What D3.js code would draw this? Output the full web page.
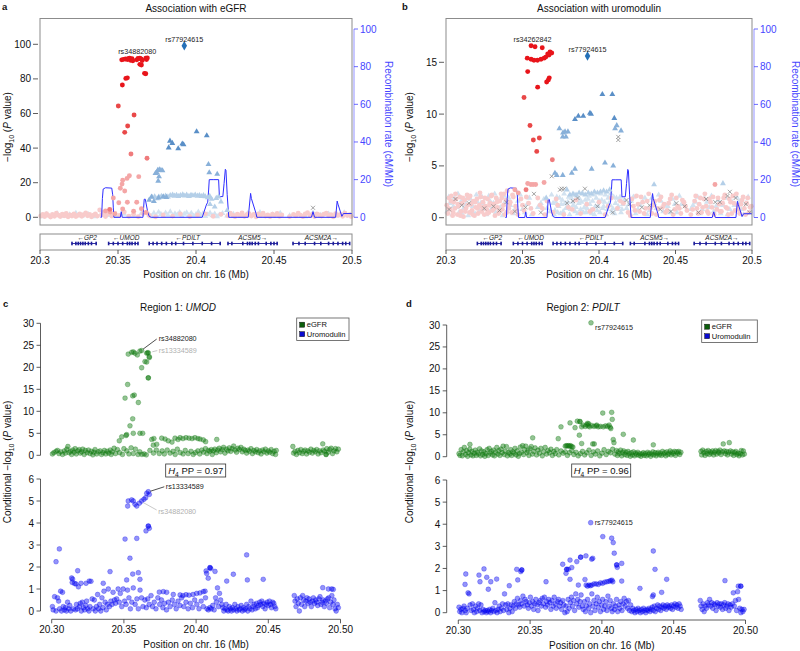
<!DOCTYPE html>
<html><head><meta charset="utf-8">
<script src="https://cdn.jsdelivr.net/npm/d3@7"></script>
<style>body{margin:0;background:#fff}svg{display:block}text{font-family:"Liberation Sans",Arial,Helvetica,sans-serif}</style>
</head><body><script>
// ---------------- DATA ----------------
const xDomain=[20.3,20.5];
const xTicksAB=[20.3,20.35,20.4,20.45,20.5];
const xTickLabelsAB=["20.3","20.35","20.4","20.45","20.5"];
const xTickLabelsCD=["20.30","20.35","20.40","20.45","20.50"];
const yTicksA=[0,20,40,60,80,100];
const yTicksB=[0,5,10,15];
const recTicks=[0,20,40,60,80,100];
const yTicksTop=[0,5,10,15,20,25,30];
const yTicksBot=[0,1,2,3,4,5,6];

// recombination rate (cM/Mb)
const recPos=[20.3388,20.3395,20.3400,20.3405,20.3420,20.3460,20.3466,20.3470,20.3474,20.3515,20.3521,20.3527,20.3660,20.3668,20.3675,20.3690,20.3700,20.3713,20.4040,20.4066,20.4075,20.4081,20.4085,20.4110,20.4145,20.4150,20.4172,20.4180,20.4188,20.4192,20.4200,20.4210,20.4335,20.4350,20.4355,20.4385,20.4390,20.4740,20.4750,20.4760,20.4895,20.4905,20.4910,20.4935,20.4945,20.500];
const recRate=[0,0,10,15,15.7,15.5,12,5,0,0,3,0,0,9.6,9.6,3,0.5,0,0,6.5,8,14.5,20,20,20,11,11,18,25.5,25,12,0,0,12.7,10,2,0,0,3,0,0,8.6,7,0.5,2,2];

// genes
const geneNames=["GP2","UMOD","PDILT","ACSM5","ACSM2A"];
const geneStart=[20.3203,20.3438,20.3699,20.4203,20.4620];
const geneEnd=[20.3363,20.3630,20.4158,20.4524,20.4987];
const geneDir=[-1,-1,-1,1,1];
const geneExons=[
 [20.3205,20.3230,20.3245,20.3260,20.3275,20.3290,20.3310,20.3330,20.3360],
 [20.3440,20.3470,20.3500,20.3530,20.3560,20.3575,20.3590,20.3610,20.3628],
 [20.3700,20.3725,20.3750,20.3780,20.3810,20.3845,20.3870,20.3920,20.3980,20.4040,20.4100,20.4155],
 [20.4205,20.4230,20.4300,20.4330,20.4345,20.4360,20.4380,20.4400,20.4450,20.4480,20.4500,20.4520],
 [20.4622,20.4660,20.4700,20.4760,20.4800,20.4850,20.4880,20.4910,20.4940,20.4960,20.4985]];

// ---- panel a: association with eGFR ([position Mb, -log10 P]) ----
const leadPos=20.3925;
const egfrLead=[[leadPos,99.2]];
const egfrRed=[[20.3524,91.0],[20.3535,91.3],[20.3548,91.5],[20.3560,91.2],[20.3568,91.8],[20.3575,92.0],[20.3580,90.8],[20.3590,91.6],[20.3595,90.5],[20.3620,91.0],[20.3628,91.8],[20.3640,92.0],[20.3648,91.5],[20.3655,90.6],[20.3678,91.9],[20.3683,91.2],[20.3688,92.1],[20.3640,88.4],[20.3650,88.0],[20.3670,83.2],[20.3678,83.0],[20.3550,80.3],[20.3560,80.6],[20.3528,76.5]];
const egfrRed2=[[20.3502,64.3],[20.3603,59.1],[20.3562,52.8],[20.3543,49.1]];
const egfrRed3=[[20.3583,36.6],[20.3686,34.1],[20.3447,4.6]];
const egfrPink=[[20.3573,24.0],[20.3558,22.5],[20.3530,21.4],[20.3526,19.2],[20.3633,23.5],[20.3515,16.8],[20.3543,15.2],[20.3470,11.2],[20.3505,8.4],[20.3560,8.7],[20.3620,8.7],[20.3450,3.0],[20.3480,2.0],[20.3530,4.8],[20.3600,3.5],[20.3650,5.0],[20.3680,2.8],[20.3420,3.6]];
const egfrPinkBg=[[20.3005,0.8],[20.3018,1.6],[20.3030,0.4],[20.3042,2.1],[20.3055,1.0],[20.3068,0.2],[20.3080,1.7],[20.3093,0.6],[20.3105,2.3],[20.3118,1.2],[20.3130,0.5],[20.3143,1.8],[20.3155,0.9],[20.3168,2.2],[20.3180,0.3],[20.3193,1.4],[20.3205,0.8],[20.3218,2.0],[20.3230,0.4],[20.3243,1.1],[20.3255,1.9],[20.3268,0.6],[20.3280,1.5],[20.3293,2.5],[20.3305,0.9],[20.3318,1.6],[20.3330,0.3],[20.3343,1.2],[20.3355,2.0],[20.3368,0.7],[20.3383,4.2],[20.3395,1.5],[20.3408,2.8],[20.3420,0.5],[20.3433,1.9],[20.3460,0.8],[20.3480,2.4],[20.3510,1.0],[20.3540,3.1],[20.3570,0.6],[20.3600,1.8],[20.3630,0.4],[20.3660,2.2],[20.3700,1.0],[20.3740,0.3],[20.3790,1.4],[20.3850,0.7],[20.3900,1.9],[20.3960,0.5],[20.4010,1.3],[20.4060,2.0],[20.4110,0.6],[20.4160,1.7],[20.4205,0.9],[20.4220,2.3],[20.4235,1.2],[20.4250,0.4],[20.4265,1.8],[20.4280,1.0],[20.4295,2.5],[20.4310,0.6],[20.4325,1.5],[20.4340,2.1],[20.4355,0.8],[20.4370,1.6],[20.4385,0.3],[20.4400,1.9],[20.4415,1.1],[20.4430,2.4],[20.4445,0.7],[20.4460,1.4],[20.4475,0.5],[20.4490,1.8],[20.4505,1.0],[20.4520,2.2],[20.4535,0.6],[20.4550,1.3],[20.4600,0.4],[20.4625,1.7],[20.4640,0.9],[20.4655,2.3],[20.4670,1.2],[20.4685,0.5],[20.4700,1.9],[20.4715,2.6],[20.4730,1.0],[20.4745,1.6],[20.4760,0.4],[20.4775,2.0],[20.4790,1.3],[20.4805,0.7],[20.4820,1.8],[20.4835,2.4],[20.4850,0.9],[20.4865,1.5],[20.4880,0.3],[20.4895,2.1],[20.4910,1.1],[20.4925,1.7],[20.4940,0.6],[20.4955,2.3],[20.4970,1.0],[20.4985,1.5],[20.4995,0.5]];
const egfrBlue=[[20.4004,49.5],[20.4069,47.2],[20.3833,44.1],[20.3848,42.8],[20.3912,42.5],[20.3920,42.0],[20.3825,40.2],[20.3886,39.7]];
const egfrBlue2=[[20.3700,10.0],[20.3715,11.8],[20.3730,9.2],[20.3760,11.3],[20.3790,12.0],[20.3810,11.6],[20.3748,26.0],[20.3755,27.2],[20.3765,27.5],[20.3775,27.3],[20.3785,27.0],[20.3740,25.4],[20.3763,23.5],[20.3758,21.0],[20.4080,30.6],[20.4085,25.8],[20.4136,25.0]];
const egfrBlue3=[[20.3720,11.5],[20.3735,12.0],[20.3750,10.8],[20.3762,11.8],[20.3778,12.2],[20.3790,11.5],[20.3805,12.4],[20.3820,11.9],[20.3835,12.6],[20.3850,13.0],[20.3862,12.3],[20.3875,12.8],[20.3888,12.1],[20.3900,12.7],[20.3915,13.1],[20.3928,12.4],[20.3940,12.9],[20.3955,12.2],[20.3968,12.8],[20.3980,12.5],[20.3995,13.0],[20.4010,12.3],[20.4022,12.7],[20.4035,12.1],[20.4048,12.6],[20.4060,12.0],[20.4075,11.4],[20.4088,12.2],[20.4100,10.5],[20.4130,11.0],[20.4145,11.9],[20.4160,9.0],[20.4200,4.0],[20.4090,7.5],[20.4120,6.0]];
const egfrBlueBg=[[20.3010,0.5],[20.3040,1.8],[20.3075,1.0],[20.3110,2.2],[20.3150,0.7],[20.3190,1.5],[20.3230,2.4],[20.3270,0.9],[20.3310,1.7],[20.3350,0.4],[20.3400,2.0],[20.3440,1.2],[20.3490,0.6],[20.3540,1.9],[20.3600,0.8],[20.3650,2.3],[20.3700,1.4],[20.3715,0.5],[20.3730,2.5],[20.3745,1.0],[20.3760,3.0],[20.3775,1.8],[20.3790,0.7],[20.3805,2.6],[20.3820,1.3],[20.3835,3.2],[20.3850,0.9],[20.3865,2.1],[20.3880,1.5],[20.3895,2.8],[20.3910,0.6],[20.3925,1.9],[20.3940,2.7],[20.3955,1.1],[20.3970,2.4],[20.3985,0.8],[20.4000,1.7],[20.4015,3.1],[20.4030,1.2],[20.4045,2.2],[20.4060,0.6],[20.4075,1.6],[20.4090,2.5],[20.4105,1.0],[20.4120,2.0],[20.4135,0.5],[20.4150,1.4],[20.4170,2.3],[20.4200,0.9],[20.4240,1.8],[20.4290,0.6],[20.4330,2.2],[20.4370,1.1],[20.4410,2.9],[20.4450,0.7],[20.4490,1.6],[20.4540,2.4],[20.4600,1.0],[20.4650,1.8],[20.4700,0.5],[20.4750,2.6],[20.4800,1.3],[20.4850,2.0],[20.4900,0.8],[20.4950,2.7],[20.4990,1.4]];
const egfrGrey=[[20.4750,5.5]];

// ---- panel b: association with uromodulin ----
const uromLead=[[leadPos,15.6]];
const uromRed=[[20.3556,16.6],[20.3582,16.5],[20.3629,16.4],[20.3531,15.4],[20.3556,15.3],[20.3575,15.2],[20.3598,15.2],[20.3621,15.3],[20.3641,15.4],[20.3652,15.5],[20.3665,15.8],[20.3680,16.0],[20.3691,15.9],[20.3673,15.7],[20.3534,14.1],[20.3675,13.5],[20.3669,13.3],[20.3658,13.1],[20.3599,12.6]];
const uromRed2=[[20.3510,11.6],[20.3549,8.9],[20.3571,7.5],[20.3610,7.7],[20.3593,6.4]];
const uromRed3=[[20.3695,5.6],[20.3523,2.7]];
const uromPink=[[20.3534,3.3],[20.3554,3.2],[20.3569,3.2],[20.3586,3.2],[20.3641,3.4],[20.3450,2.7],[20.3472,2.4],[20.4758,3.2]];
const uromPinkBg=[[20.3005,1.2],[20.3012,0.4],[20.3020,1.9],[20.3028,0.8],[20.3035,2.1],[20.3043,0.2],[20.3050,1.5],[20.3058,0.9],[20.3066,1.8],[20.3074,0.3],[20.3082,1.1],[20.3090,2.0],[20.3098,0.6],[20.3106,1.4],[20.3114,0.1],[20.3122,1.7],[20.3130,0.9],[20.3138,2.2],[20.3146,1.9],[20.3154,0.5],[20.3162,1.3],[20.3170,0.7],[20.3178,1.6],[20.3186,0.2],[20.3194,1.0],[20.3202,1.8],[20.3210,0.4],[20.3218,1.2],[20.3226,2.0],[20.3234,0.6],[20.3242,1.5],[20.3250,0.3],[20.3258,1.1],[20.3266,0.8],[20.3272,1.8],[20.3280,0.5],[20.3288,1.4],[20.3296,2.1],[20.3304,0.7],[20.3312,1.3],[20.3320,0.2],[20.3328,1.9],[20.3336,1.0],[20.3344,0.4],[20.3352,1.6],[20.3360,2.3],[20.3368,0.8],[20.3376,1.2],[20.3384,0.3],[20.3392,1.7],[20.3400,2.6],[20.3410,0.9],[20.3420,1.5],[20.3430,0.5],[20.3440,2.0],[20.3455,1.1],[20.3470,0.3],[20.3490,1.8],[20.3510,0.7],[20.3540,1.4],[20.3570,0.4],[20.3600,1.9],[20.3630,0.9],[20.3660,1.6],[20.3700,0.5],[20.3730,1.2],[20.3770,0.3],[20.3800,1.0],[20.3850,1.7],[20.3880,0.4],[20.3920,1.3],[20.3960,0.8],[20.4000,1.5],[20.4040,0.3],[20.4080,1.9],[20.4120,0.9],[20.4160,1.4],[20.4190,0.5],[20.4215,1.8],[20.4235,0.7],[20.4255,1.3],[20.4275,2.0],[20.4295,0.4],[20.4315,1.6],[20.4335,0.9],[20.4355,1.2],[20.4375,0.3],[20.4395,1.7],[20.4415,1.0],[20.4435,0.5],[20.4455,1.4],[20.4475,2.2],[20.4495,0.8],[20.4515,1.1],[20.4535,0.4],[20.4555,1.5],[20.4575,0.7],[20.4600,0.3],[20.4625,1.6],[20.4640,0.9],[20.4655,1.3],[20.4670,0.5],[20.4685,1.8],[20.4700,1.1],[20.4715,0.4],[20.4730,1.5],[20.4745,2.0],[20.4770,0.8],[20.4785,1.3],[20.4800,0.6],[20.4815,1.9],[20.4830,1.0],[20.4845,0.3],[20.4860,1.5],[20.4875,2.1],[20.4890,0.7],[20.4905,1.2],[20.4920,0.4],[20.4935,1.7],[20.4950,0.9],[20.4965,1.4],[20.4980,0.5],[20.4995,1.1]];
const uromPinkBg2=[[20.3016,0.9],[20.3032,1.6],[20.3047,0.5],[20.3062,2.3],[20.3078,1.3],[20.3094,0.2],[20.3110,1.9],[20.3126,0.6],[20.3142,1.2],[20.3158,2.1],[20.3174,0.3],[20.3190,1.5],[20.3206,0.9],[20.3222,2.4],[20.3238,1.0],[20.3254,1.9],[20.3270,0.4],[20.3284,1.2],[20.3300,2.2],[20.3316,0.9],[20.3332,1.5],[20.3348,0.6],[20.3364,1.9],[20.3380,2.3],[20.3396,0.5],[20.3415,1.3],[20.3435,2.2],[20.3462,0.7],[20.3500,1.2],[20.3525,2.0],[20.3555,0.9],[20.3615,1.2],[20.3645,0.3],[20.3720,1.8],[20.3825,0.8],[20.3940,0.6],[20.4060,1.1],[20.4140,1.6],[20.4205,0.2],[20.4225,1.1],[20.4245,2.1],[20.4265,0.6],[20.4285,1.5],[20.4305,0.9],[20.4325,2.3],[20.4345,0.4],[20.4365,1.6],[20.4385,0.9],[20.4405,2.0],[20.4425,1.3],[20.4445,0.7],[20.4465,1.8],[20.4485,0.3],[20.4505,1.9],[20.4525,0.9],[20.4545,1.7],[20.4565,1.1],[20.4612,0.8],[20.4632,2.1],[20.4648,0.4],[20.4662,1.9],[20.4678,1.0],[20.4692,2.3],[20.4708,0.6],[20.4722,1.8],[20.4738,1.0],[20.4752,0.3],[20.4778,1.9],[20.4792,0.6],[20.4808,1.4],[20.4822,2.2],[20.4838,0.9],[20.4852,1.8],[20.4868,0.4],[20.4882,1.4],[20.4898,2.3],[20.4912,0.8],[20.4928,1.3],[20.4942,2.0],[20.4958,0.3],[20.4972,1.9],[20.4988,1.0]];
const uromBlue=[[20.4022,11.9],[20.4087,11.9],[20.3941,10.1],[20.3948,10.0],[20.3897,9.8],[20.3865,9.8],[20.3843,9.5],[20.4100,9.6]];
const uromBlue2=[[20.3741,8.6],[20.3765,8.2],[20.3778,8.3],[20.3797,8.3],[20.3763,7.8],[20.3784,7.8],[20.4116,8.9],[20.4105,8.6],[20.4144,8.4],[20.4039,5.3],[20.4093,5.0],[20.3952,4.7],[20.3712,4.3],[20.3724,4.1],[20.3763,4.1],[20.3822,4.3],[20.3843,4.7]];
const uromBlue3=[[20.3790,2.7],[20.3810,2.2],[20.3830,2.3],[20.3850,2.2],[20.3870,2.4],[20.3890,2.3],[20.3910,2.2],[20.3930,2.4],[20.3950,2.3],[20.3970,2.5],[20.3990,2.4],[20.4010,2.5],[20.4030,2.6],[20.4050,2.5],[20.4070,2.7],[20.3655,1.9],[20.4360,3.2],[20.4810,3.3]];
const uromBlueBg=[[20.3008,0.6],[20.3025,1.4],[20.3040,0.3],[20.3055,1.9],[20.3070,1.0],[20.3085,0.5],[20.3100,1.6],[20.3115,0.9],[20.3130,1.3],[20.3145,0.2],[20.3160,1.8],[20.3175,1.1],[20.3190,0.4],[20.3205,1.5],[20.3220,0.7],[20.3235,2.0],[20.3250,1.2],[20.3265,0.3],[20.3280,2.1],[20.3295,0.8],[20.3310,1.4],[20.3325,0.5],[20.3340,1.7],[20.3355,1.0],[20.3370,0.2],[20.3385,1.5],[20.3400,0.6],[20.3420,1.2],[20.3440,0.4],[20.3470,1.6],[20.3500,0.8],[20.3530,1.3],[20.3560,0.3],[20.3600,1.0],[20.3640,1.8],[20.3680,0.6],[20.3700,1.4],[20.3712,0.7],[20.3724,2.0],[20.3736,1.1],[20.3748,0.4],[20.3760,1.7],[20.3772,2.3],[20.3784,0.9],[20.3796,1.5],[20.3808,0.3],[20.3820,1.9],[20.3832,1.2],[20.3844,0.6],[20.3856,2.1],[20.3868,1.4],[20.3880,0.8],[20.3892,2.4],[20.3904,1.0],[20.3916,0.5],[20.3928,1.8],[20.3940,1.3],[20.3952,0.4],[20.3964,2.2],[20.3976,1.1],[20.3988,0.7],[20.4000,1.6],[20.4012,2.3],[20.4024,0.9],[20.4036,1.5],[20.4048,0.3],[20.4060,1.9],[20.4072,1.2],[20.4084,0.6],[20.4096,2.0],[20.4108,1.4],[20.4120,0.8],[20.4132,1.7],[20.4144,0.5],[20.4156,1.3],[20.4180,0.9],[20.4210,1.6],[20.4240,0.4],[20.4270,1.2],[20.4300,1.9],[20.4330,0.7],[20.4360,1.4],[20.4390,2.2],[20.4420,0.6],[20.4450,1.1],[20.4480,1.8],[20.4510,0.5],[20.4540,1.3],[20.4600,0.8],[20.4630,1.5],[20.4660,0.4],[20.4690,1.9],[20.4720,1.0],[20.4750,0.6],[20.4780,1.7],[20.4810,1.2],[20.4840,0.3],[20.4870,1.5],[20.4900,2.0],[20.4930,0.8],[20.4960,1.4],[20.4990,0.6]];
const uromBlueBg2=[[20.3018,2.0],[20.3048,1.1],[20.3078,2.3],[20.3108,0.3],[20.3138,1.9],[20.3168,0.6],[20.3198,2.2],[20.3228,1.4],[20.3258,0.8],[20.3288,1.6],[20.3318,2.3],[20.3348,0.9],[20.3378,2.1],[20.3410,1.9],[20.3455,0.9],[20.3485,2.2],[20.3515,0.5],[20.3545,1.9],[20.3620,1.4],[20.3660,0.9],[20.3690,2.2],[20.3706,0.3],[20.3718,1.5],[20.3730,0.5],[20.3742,1.9],[20.3754,1.3],[20.3766,0.6],[20.3778,1.4],[20.3790,1.0],[20.3802,2.0],[20.3814,0.8],[20.3826,1.5],[20.3838,2.2],[20.3850,1.0],[20.3862,0.4],[20.3874,1.8],[20.3886,1.5],[20.3898,0.5],[20.3910,1.7],[20.3922,0.9],[20.3934,2.1],[20.3946,0.7],[20.3958,1.6],[20.3970,0.3],[20.3982,1.9],[20.3994,1.1],[20.4006,0.5],[20.4018,1.7],[20.4030,1.1],[20.4042,2.2],[20.4054,0.8],[20.4066,1.4],[20.4078,2.3],[20.4090,0.9],[20.4102,0.4],[20.4114,1.9],[20.4126,1.1],[20.4138,2.0],[20.4150,0.8],[20.4165,1.7],[20.4195,1.3],[20.4225,2.0],[20.4255,0.8],[20.4285,1.5],[20.4315,0.3],[20.4345,1.9],[20.4375,0.9],[20.4405,1.6],[20.4435,1.2],[20.4465,0.5],[20.4495,1.3],[20.4525,2.1],[20.4615,1.2],[20.4645,2.0],[20.4675,0.8],[20.4705,1.5],[20.4735,2.1],[20.4765,1.1],[20.4795,0.4],[20.4825,1.9],[20.4855,0.8],[20.4885,1.2],[20.4915,1.6],[20.4945,0.3],[20.4975,2.0]];
const uromGrey=[[20.4126,7.8],[20.4126,7.5],[20.3691,4.0],[20.3756,2.8],[20.3773,2.8],[20.3575,2.3],[20.3745,2.7],[20.3908,2.8],[20.3830,1.6],[20.3791,1.4],[20.4506,1.4],[20.4760,1.5],[20.4790,1.5],[20.4855,2.5],[20.4840,2.1],[20.4893,1.9],[20.3310,1.1],[20.3103,1.2],[20.3062,1.8],[20.4200,1.3],[20.4280,1.0],[20.4400,0.8],[20.4650,0.5],[20.3450,0.6],[20.3250,0.9],[20.3020,0.8],[20.3150,1.4],[20.3350,0.7],[20.3395,1.5],[20.3520,1.0],[20.3620,0.5],[20.3860,1.9],[20.3990,1.1],[20.4090,0.5],[20.4180,1.7],[20.4330,1.2],[20.4470,0.6],[20.4560,1.1],[20.4700,1.8],[20.4960,1.3],[20.4985,0.5]];

// ---- panel c: region 1 UMOD (conditional -log10 P) ----
const r1Egfr=[[20.3530,23.0],[20.3554,23.4],[20.3565,23.5],[20.3577,23.2],[20.3593,22.8],[20.3611,23.7],[20.3623,23.8],[20.3658,23.2],[20.3664,23.3],[20.3669,23.3],[20.3676,22.4],[20.3623,19.9],[20.3646,21.3],[20.3658,21.2],[20.3676,22.2],[20.3669,17.6],[20.3669,17.6],[20.3526,16.1],[20.3508,13.0],[20.3561,13.5],[20.3572,13.7],[20.3600,12.0],[20.3561,8.3],[20.3542,6.7],[20.3565,5.0],[20.3519,4.7],[20.3515,4.5],[20.3611,5.0],[20.3630,5.0],[20.3468,3.3],[20.3485,4.2],[20.3693,3.6],[20.3708,3.8],[20.3727,2.5],[20.3704,2.3],[20.3762,3.9],[20.3785,3.7],[20.3807,3.3],[20.3833,3.0],[20.3854,3.9],[20.3875,3.6],[20.3889,4.0],[20.3909,3.8],[20.3930,4.0],[20.3951,3.9],[20.3972,3.8],[20.3992,4.0],[20.4013,3.8],[20.4027,3.7],[20.4050,3.5],[20.4066,3.1],[20.4143,3.6],
[20.3005,0.3],[20.3015,0.6],[20.3030,0.9],[20.3040,1.1],[20.3050,0.4],[20.3062,0.8],[20.3075,0.2],[20.3088,1.0],[20.3095,0.5],[20.3105,1.4],[20.3112,2.0],[20.3120,0.6],[20.3130,0.9],[20.3138,0.2],[20.3145,1.2],[20.3155,0.7],[20.3162,1.5],[20.3170,0.3],[20.3180,1.0],[20.3190,1.3],[20.3198,0.5],[20.3208,0.8],[20.3215,1.4],[20.3225,0.2],[20.3233,1.1],[20.3245,0.6],[20.3255,1.2],[20.3265,0.4],[20.3275,0.9],[20.3285,0.1],[20.3292,0.7],[20.3300,1.3],[20.3312,0.3],[20.3322,0.8],[20.3335,1.0],[20.3345,0.2],[20.3355,0.6],[20.3365,1.1],[20.3375,0.3],[20.3385,0.9],[20.3395,0.5],[20.3405,1.2],[20.3412,0.2],[20.3420,0.8],[20.3432,1.6],[20.3442,0.4],[20.3455,1.3],[20.3470,0.6],[20.3490,0.2],[20.3500,1.5],[20.3520,1.0],[20.3535,0.3],[20.3550,1.7],[20.3565,0.4],[20.3580,1.4],[20.3598,0.2],[20.3610,0.8],[20.3625,0.2],[20.3640,0.3],[20.3655,0.1],[20.3680,1.1],[20.3705,0.5],[20.3725,1.2],[20.3745,0.4],[20.3765,1.0],[20.3780,0.3],[20.3800,1.2],[20.3820,0.5],[20.3840,0.9],[20.3855,0.2],[20.3870,1.4],[20.3890,0.6],[20.3910,0.3],[20.3925,1.1],[20.3945,0.4],[20.3965,0.9],[20.3980,0.2],[20.3995,0.6],[20.4012,1.0],[20.4025,0.3],[20.4040,1.2],[20.4052,0.7],[20.4065,1.5],[20.4075,0.4],[20.4085,1.1],[20.4095,0.9],[20.4105,1.3],[20.4112,0.2],[20.4120,1.0],[20.4130,1.4],[20.4140,0.6],[20.4150,1.2],[20.4160,1.6],[20.4170,0.8],[20.4180,1.3],[20.4190,1.8],[20.4200,0.5],[20.4210,1.4],[20.4220,1.0],[20.4230,1.7],[20.4240,0.9],[20.4250,1.5],[20.4260,2.1],[20.4270,1.2],[20.4280,0.7],[20.4290,1.6],[20.4300,1.3],[20.4310,1.8],[20.4320,0.8],[20.4330,1.4],[20.4340,1.1],[20.4350,0.5],[20.4360,1.2],[20.4370,0.9],[20.4380,1.5],[20.4390,0.4],[20.4400,1.1],[20.4410,0.8],[20.4420,1.3],[20.4430,0.6],[20.4440,1.0],[20.4450,0.3],[20.4460,1.2],[20.4470,0.8],[20.4480,1.4],[20.4490,0.5],[20.4500,1.0],[20.4510,0.7],[20.4520,1.3],[20.4530,0.4],[20.4540,0.9],[20.4550,0.2],[20.4555,1.1],[20.4670,2.0],[20.4675,0.5],[20.4685,0.9],[20.4695,0.2],[20.4705,1.1],[20.4715,0.6],[20.4725,1.3],[20.4735,0.4],[20.4745,0.9],[20.4755,1.2],[20.4765,0.3],[20.4775,1.0],[20.4785,0.7],[20.4795,1.4],[20.4805,0.5],[20.4815,1.1],[20.4825,0.8],[20.4835,1.3],[20.4845,0.3],[20.4855,1.0],[20.4865,0.6],[20.4877,2.6],[20.4880,1.2],[20.4890,0.9],[20.4900,0.2],[20.4900,0.2],[20.4905,1.5],[20.4915,0.7],[20.4925,1.3],[20.4935,1.6],[20.4945,0.4],[20.4955,1.0],[20.4965,1.5],[20.4975,0.8],[20.4985,1.4]];
const r1Urom=[[20.3669,5.42],[20.3658,5.35],[20.3676,5.30],[20.3530,5.0],[20.3526,4.77],[20.3554,5.05],[20.3565,5.0],[20.3577,4.85],[20.3589,4.77],[20.3607,4.9],[20.3623,5.0],[20.3639,5.08],[20.3651,5.15],[20.3669,3.86],[20.3669,3.86],[20.3676,3.76],[20.3653,3.64],[20.3508,3.27],[20.3589,3.3],[20.3542,2.4],[20.3053,2.82],[20.3030,2.24],[20.3180,1.83],[20.3404,1.79],[20.3600,1.74],[20.3561,1.68],[20.3611,1.44],[20.3519,1.41],[20.4096,1.97],[20.4096,1.97],[20.4101,1.93],[20.4069,1.82],[20.4131,1.8],[20.4073,1.71],[20.4084,1.49],[20.4350,2.55],[20.4258,1.67],[20.4355,1.41],[20.4465,1.44],[20.4212,1.36],[20.3145,1.45],[20.3260,1.36],[20.3203,1.26],[20.3238,1.26],[20.3168,1.23],[20.3357,1.26],[20.4877,1.06],[20.4916,1.0],[20.4939,1.0],[20.4950,0.98],[20.3745,0.86],[20.3773,0.88],[20.3796,0.85],[20.3842,0.75],[20.3889,0.73],[20.3909,0.70],[20.3930,0.74],[20.3951,0.72],[20.3979,0.75],[20.4004,0.80],[20.4027,0.82],[20.4050,0.88],[20.4062,0.9],
[20.3005,0.2],[20.3010,0.05],[20.3020,0.65],[20.3030,0.0],[20.3040,0.6],[20.3048,0.45],[20.3055,0.1],[20.3062,0.9],[20.3068,0.0],[20.3075,0.85],[20.3080,0.2],[20.3088,0.05],[20.3095,0.15],[20.3102,0.0],[20.3110,0.4],[20.3118,0.1],[20.3125,0.25],[20.3132,0.0],[20.3138,1.5],[20.3142,1.3],[20.3150,0.1],[20.3158,1.25],[20.3165,0.05],[20.3172,0.3],[20.3178,0.1],[20.3185,1.1],[20.3192,0.2],[20.3198,0.35],[20.3205,0.0],[20.3212,0.4],[20.3220,0.15],[20.3228,0.05],[20.3235,0.25],[20.3242,0.45],[20.3250,0.1],[20.3258,0.0],[20.3265,0.2],[20.3272,1.35],[20.3280,0.55],[20.3288,0.1],[20.3295,0.5],[20.3302,0.0],[20.3310,0.2],[20.3318,0.75],[20.3325,0.1],[20.3332,0.3],[20.3340,0.0],[20.3348,0.6],[20.3355,0.15],[20.3362,0.9],[20.3370,0.4],[20.3378,0.05],[20.3385,0.3],[20.3392,1.0],[20.3400,0.2],[20.3410,0.45],[20.3418,0.3],[20.3425,0.85],[20.3435,0.5],[20.3442,0.35],[20.3450,0.55],[20.3460,1.0],[20.3468,0.4],[20.3475,0.8],[20.3485,0.2],[20.3495,1.0],[20.3505,0.45],[20.3515,0.3],[20.3525,0.95],[20.3535,0.6],[20.3545,0.1],[20.3555,0.4],[20.3565,1.05],[20.3578,0.3],[20.3590,0.55],[20.3600,0.1],[20.3612,0.95],[20.3622,0.6],[20.3632,0.2],[20.3645,0.5],[20.3655,0.15],[20.3665,0.55],[20.3675,0.3],[20.3688,0.7],[20.3698,0.2],[20.3710,0.4],[20.3722,0.1],[20.3735,0.6],[20.3748,0.3],[20.3760,0.5],[20.3770,0.15],[20.3782,0.35],[20.3795,0.05],[20.3808,0.4],[20.3820,0.2],[20.3835,0.5],[20.3850,0.3],[20.3862,0.1],[20.3875,0.45],[20.3888,0.25],[20.3900,0.6],[20.3915,0.2],[20.3930,0.4],[20.3945,0.1],[20.3960,0.35],[20.3975,0.15],[20.3990,0.5],[20.4005,0.3],[20.4020,0.1],[20.4035,0.45],[20.4050,0.2],[20.4065,0.6],[20.4075,0.1],[20.4085,0.05],[20.4095,0.15],[20.4105,0.1],[20.4115,0.25],[20.4125,0.05],[20.4135,0.6],[20.4140,0.4],[20.4148,1.05],[20.4155,0.2],[20.4162,0.8],[20.4170,0.5],[20.4178,0.3],[20.4185,0.15],[20.4192,0.0],[20.4200,0.1],[20.4208,0.3],[20.4215,0.05],[20.4222,0.0],[20.4230,0.2],[20.4238,0.1],[20.4245,0.0],[20.4252,0.15],[20.4260,0.05],[20.4268,0.3],[20.4275,0.1],[20.4282,0.0],[20.4290,0.2],[20.4298,0.05],[20.4305,0.1],[20.4312,0.25],[20.4320,0.0],[20.4328,0.15],[20.4335,0.05],[20.4342,0.1],[20.4350,0.3],[20.4358,0.0],[20.4365,0.2],[20.4372,0.1],[20.4380,0.45],[20.4388,0.05],[20.4395,0.2],[20.4402,0.3],[20.4410,0.1],[20.4418,0.35],[20.4425,0.15],[20.4432,0.25],[20.4440,0.4],[20.4448,0.3],[20.4455,0.45],[20.4462,0.2],[20.4470,0.35],[20.4478,0.1],[20.4485,0.3],[20.4492,0.4],[20.4500,0.25],[20.4508,0.45],[20.4515,0.3],[20.4522,0.15],[20.4530,0.4],[20.4538,0.35],[20.4545,0.2],[20.4552,0.1],[20.4680,0.7],[20.4685,0.45],[20.4692,0.2],[20.4700,0.55],[20.4708,0.35],[20.4715,0.0],[20.4722,0.6],[20.4730,0.3],[20.4738,0.7],[20.4745,0.5],[20.4752,0.2],[20.4760,0.45],[20.4768,0.6],[20.4775,0.35],[20.4782,0.55],[20.4790,0.4],[20.4798,0.2],[20.4805,0.45],[20.4812,0.6],[20.4820,0.35],[20.4828,0.5],[20.4835,0.4],[20.4842,0.25],[20.4850,0.55],[20.4858,0.65],[20.4865,0.3],[20.4872,0.4],[20.4880,0.5],[20.4888,0.2],[20.4895,0.45],[20.4902,0.35],[20.4910,0.55],[20.4918,0.6],[20.4925,0.15],[20.4932,0.4],[20.4940,0.7],[20.4948,0.3],[20.4955,0.5],[20.4962,0.1],[20.4970,0.0],[20.4978,0.3],[20.4985,0.15]];

// ---- panel d: region 2 PDILT ----
const r2Egfr=[[20.3924,30.5],[20.4006,9.95],[20.4068,10.1],[20.4072,8.5],[20.3778,7.7],[20.3829,8.1],[20.3847,8.0],[20.3847,8.0],[20.3859,6.8],[20.3715,6.8],[20.3813,6.6],[20.3843,4.9],[20.3696,4.1],[20.4149,5.1],[20.3518,4.3],[20.3859,3.0],[20.3936,2.9],[20.3947,2.9],[20.4079,3.9],[20.4084,3.2],[20.4219,3.8],[20.3081,2.8],[20.4358,2.7],[20.4845,2.9],[20.4887,3.2],
[20.3870,7.2],[20.3885,6.9],[20.3895,7.3],[20.3900,7.6],[20.3908,7.5],[20.3905,7.0],[20.3915,6.8],[20.3930,7.1],[20.3945,6.9],[20.3960,7.0],[20.3964,7.2],[20.3975,6.8],[20.3990,6.9],[20.4010,6.8],[20.4025,7.0],[20.4040,6.9],[20.4050,7.2],[20.4058,6.7],[20.4062,6.4],
[20.3745,2.4],[20.3752,2.5],[20.3760,2.45],[20.3768,2.5],[20.3775,2.4],[20.3782,2.5],[20.3790,2.3],[20.3798,2.2],
[20.3005,0.7],[20.3012,0.3],[20.3020,1.6],[20.3028,0.2],[20.3035,1.1],[20.3042,2.1],[20.3050,0.5],[20.3058,1.4],[20.3065,0.1],[20.3072,0.9],[20.3080,1.7],[20.3088,0.4],[20.3095,1.2],[20.3102,0.2],[20.3110,0.8],[20.3118,1.5],[20.3125,0.3],[20.3132,1.0],[20.3140,0.6],[20.3148,1.8],[20.3155,0.2],[20.3162,1.3],[20.3170,0.5],[20.3178,1.1],[20.3185,0.1],[20.3192,0.7],[20.3200,1.6],[20.3208,0.3],[20.3215,1.9],[20.3222,0.8],[20.3230,1.2],[20.3238,0.4],[20.3245,1.5],[20.3252,0.2],[20.3260,1.0],[20.3268,2.1],[20.3275,0.6],[20.3282,1.4],[20.3290,0.3],[20.3298,1.7],[20.3305,0.9],[20.3312,2.4],[20.3320,0.5],[20.3328,1.2],[20.3335,2.3],[20.3342,0.2],[20.3350,1.0],[20.3358,0.6],[20.3365,1.6],[20.3372,0.3],[20.3380,1.1],[20.3388,0.8],[20.3395,1.9],[20.3402,0.4],[20.3410,1.3],[20.3418,0.1],[20.3425,0.7],[20.3432,2.2],[20.3440,1.0],[20.3448,2.5],[20.3455,0.5],[20.3462,1.6],[20.3470,2.4],[20.3478,0.9],[20.3485,1.4],[20.3492,0.3],[20.3500,1.8],[20.3508,2.3],[20.3515,0.6],[20.3525,1.2],[20.3535,2.0],[20.3545,0.4],[20.3555,1.5],[20.3565,0.8],[20.3575,1.9],[20.3585,0.2],[20.3595,1.1],[20.3605,2.1],[20.3615,0.6],[20.3625,1.4],[20.3635,0.9],[20.3645,1.7],[20.3655,0.3],[20.3665,1.2],[20.3675,0.7],[20.3685,1.6],[20.3700,0.4],[20.3715,1.3],[20.3730,0.8],[20.3745,1.1],[20.3760,0.3],[20.3775,0.9],[20.3790,1.4],[20.3805,0.5],[20.3820,1.0],[20.3835,0.2],[20.3850,0.7],[20.3865,1.2],[20.3880,0.4],[20.3895,0.9],[20.3910,1.5],[20.3925,0.3],[20.3940,1.1],[20.3955,0.6],[20.3970,1.3],[20.3985,0.2],[20.4000,0.8],[20.4015,1.6],[20.4030,0.5],[20.4045,1.2],[20.4060,0.9],[20.4075,1.7],[20.4090,0.6],[20.4100,1.4],[20.4108,0.3],[20.4115,1.1],[20.4122,0.7],[20.4130,1.5],[20.4138,0.2],[20.4145,0.9],[20.4152,1.3],[20.4160,0.5],[20.4168,1.0],[20.4175,0.3],[20.4182,1.2],[20.4190,0.7],[20.4198,0.1],[20.4205,0.9],[20.4212,0.4],[20.4220,1.1],[20.4228,0.2],[20.4235,0.8],[20.4242,0.5],[20.4250,1.0],[20.4258,0.3],[20.4265,0.7],[20.4272,0.1],[20.4280,0.6],[20.4288,0.9],[20.4295,0.3],[20.4302,0.7],[20.4310,0.2],[20.4318,1.0],[20.4325,0.5],[20.4332,0.8],[20.4340,0.1],[20.4348,0.6],[20.4355,1.1],[20.4362,0.4],[20.4370,0.9],[20.4378,0.2],[20.4385,0.7],[20.4392,1.0],[20.4400,0.4],[20.4408,0.8],[20.4415,0.3],[20.4422,1.2],[20.4430,0.6],[20.4438,0.9],[20.4445,0.2],[20.4452,1.1],[20.4460,0.5],[20.4468,0.8],[20.4475,1.3],[20.4482,0.4],[20.4490,1.0],[20.4498,0.7],[20.4505,1.2],[20.4512,0.3],[20.4520,1.1],[20.4528,0.8],[20.4535,1.2],[20.4542,0.5],[20.4550,1.0],[20.4690,1.2],[20.4695,0.4],[20.4702,1.5],[20.4710,0.9],[20.4718,0.3],[20.4725,1.2],[20.4732,0.7],[20.4740,1.4],[20.4748,0.5],[20.4755,1.1],[20.4762,0.8],[20.4770,1.3],[20.4778,0.4],[20.4785,1.0],[20.4792,1.4],[20.4800,0.6],[20.4808,1.2],[20.4815,0.9],[20.4822,1.5],[20.4830,0.5],[20.4838,1.1],[20.4852,1.3],[20.4860,0.7],[20.4868,1.2],[20.4875,0.4],[20.4882,1.0],[20.4895,1.3],[20.4902,0.6],[20.4910,1.1],[20.4918,0.3],[20.4925,0.9],[20.4932,1.2],[20.4940,0.5],[20.4948,0.8],[20.4955,0.2],[20.4962,0.7],[20.4970,1.4],[20.4978,0.4],[20.4985,1.3],[20.4992,0.6]];
const r2Urom=[[20.3922,4.07],[20.4006,3.44],[20.4068,3.37],[20.4079,3.17],[20.4086,2.69],[20.4103,2.16],[20.4103,2.16],[20.4107,2.05],[20.4138,2.23],[20.4358,2.79],[20.4370,1.96],[20.3889,2.57],[20.3936,2.46],[20.3929,2.42],[20.3852,2.51],[20.3852,2.51],[20.3825,2.31],[20.3778,2.38],[20.3727,2.19],[20.3755,1.96],[20.3755,1.96],[20.3766,1.96],[20.3790,2.04],[20.3750,1.78],[20.3778,1.51],[20.3047,1.28],[20.3052,1.75],[20.3179,1.98],[20.3144,1.7],[20.3151,1.4],[20.3198,1.6],[20.3209,1.06],[20.3267,1.52],[20.3226,1.4],[20.3407,1.96],[20.3435,1.86],[20.3442,1.93],[20.3442,1.93],[20.3414,1.48],[20.3355,1.22],[20.3611,1.4],[20.4451,1.51],[20.4857,1.45],[20.4950,1.2],[20.4967,1.2],[20.4967,1.2],[20.4265,1.1],[20.4138,1.43],[20.3836,1.25],[20.3882,1.5],[20.4416,0.92],[20.4358,0.8],[20.4352,0.73],
[20.3890,1.25],[20.3900,1.2],[20.3910,1.25],[20.3920,1.22],[20.3930,1.25],[20.3945,1.3],[20.3960,1.3],[20.3975,1.28],[20.3990,1.35],[20.4005,1.33],[20.4020,1.38],[20.4035,1.4],[20.4050,1.42],[20.4060,1.45],[20.4070,1.47],[20.4076,1.4],
[20.3005,0.25],[20.3010,0.05],[20.3018,0.15],[20.3025,0.0],[20.3032,0.2],[20.3040,0.3],[20.3048,0.1],[20.3055,0.0],[20.3062,0.2],[20.3068,0.9],[20.3075,0.85],[20.3082,0.35],[20.3090,0.1],[20.3098,0.4],[20.3105,0.15],[20.3112,0.0],[20.3120,0.3],[20.3128,0.05],[20.3135,0.2],[20.3142,0.4],[20.3150,0.1],[20.3158,0.35],[20.3165,0.0],[20.3172,0.15],[20.3180,0.05],[20.3188,0.1],[20.3195,0.0],[20.3202,0.1],[20.3210,0.05],[20.3218,0.15],[20.3225,0.0],[20.3232,0.1],[20.3240,0.2],[20.3248,0.05],[20.3255,0.45],[20.3262,0.1],[20.3270,0.0],[20.3278,0.15],[20.3285,0.3],[20.3292,0.05],[20.3300,0.2],[20.3308,0.4],[20.3315,0.1],[20.3322,0.85],[20.3330,0.35],[20.3338,0.15],[20.3345,0.4],[20.3352,0.0],[20.3360,0.2],[20.3368,0.35],[20.3375,0.05],[20.3382,0.3],[20.3390,0.5],[20.3398,0.2],[20.3405,0.4],[20.3412,0.65],[20.3420,0.35],[20.3428,0.25],[20.3435,0.55],[20.3442,0.4],[20.3450,0.75],[20.3458,0.3],[20.3465,0.6],[20.3472,0.5],[20.3480,0.35],[20.3488,0.2],[20.3495,0.45],[20.3502,0.7],[20.3510,0.3],[20.3518,0.5],[20.3525,0.15],[20.3532,0.4],[20.3540,0.6],[20.3548,0.35],[20.3555,0.1],[20.3562,0.45],[20.3570,0.55],[20.3578,0.3],[20.3585,0.65],[20.3592,0.4],[20.3600,0.7],[20.3608,0.25],[20.3615,0.5],[20.3622,0.35],[20.3630,0.6],[20.3638,0.45],[20.3645,0.15],[20.3652,0.55],[20.3660,0.3],[20.3668,0.7],[20.3675,0.4],[20.3682,0.2],[20.3690,0.5],[20.3698,0.6],[20.3705,0.3],[20.3712,0.45],[20.3720,0.15],[20.3728,0.55],[20.3735,0.35],[20.3742,0.0],[20.3750,0.3],[20.3758,0.05],[20.3765,0.6],[20.3772,0.2],[20.3780,0.45],[20.3788,0.7],[20.3795,0.3],[20.3802,0.55],[20.3810,0.1],[20.3818,0.85],[20.3825,0.4],[20.3832,0.6],[20.3840,0.25],[20.3848,0.5],[20.3855,0.8],[20.3862,0.3],[20.3870,0.15],[20.3878,0.5],[20.3885,0.05],[20.3892,0.3],[20.3900,0.6],[20.3908,0.2],[20.3915,0.4],[20.3922,0.0],[20.3930,0.85],[20.3938,0.3],[20.3945,0.55],[20.3952,0.1],[20.3960,0.4],[20.3968,0.7],[20.3975,0.25],[20.3982,0.5],[20.3990,0.05],[20.3998,0.35],[20.4005,0.6],[20.4012,0.15],[20.4020,0.3],[20.4028,0.5],[20.4035,0.1],[20.4042,0.75],[20.4050,0.3],[20.4058,0.55],[20.4065,0.2],[20.4072,0.05],[20.4080,0.4],[20.4088,0.15],[20.4095,0.3],[20.4102,0.6],[20.4110,0.05],[20.4118,0.35],[20.4125,0.2],[20.4132,0.5],[20.4140,0.1],[20.4148,0.4],[20.4155,0.65],[20.4162,0.3],[20.4170,0.5],[20.4178,0.2],[20.4185,0.55],[20.4192,0.1],[20.4200,0.35],[20.4208,0.05],[20.4215,0.2],[20.4222,0.1],[20.4230,0.0],[20.4238,0.15],[20.4245,0.05],[20.4252,0.2],[20.4260,0.1],[20.4268,0.0],[20.4275,0.15],[20.4282,0.05],[20.4290,0.2],[20.4298,0.1],[20.4305,0.0],[20.4312,0.15],[20.4320,0.1],[20.4328,0.2],[20.4335,0.05],[20.4342,0.15],[20.4350,0.25],[20.4358,0.1],[20.4365,0.3],[20.4372,0.05],[20.4380,0.2],[20.4388,0.35],[20.4395,0.15],[20.4402,0.3],[20.4410,0.1],[20.4418,0.25],[20.4425,0.35],[20.4432,0.2],[20.4440,0.3],[20.4448,0.15],[20.4455,0.35],[20.4462,0.25],[20.4470,0.3],[20.4478,0.2],[20.4485,0.35],[20.4492,0.15],[20.4500,0.3],[20.4508,0.4],[20.4515,0.25],[20.4522,0.35],[20.4530,0.2],[20.4538,0.4],[20.4545,0.3],[20.4552,0.15],[20.4685,0.55],[20.4690,0.3],[20.4698,0.15],[20.4705,0.4],[20.4712,0.05],[20.4720,0.3],[20.4728,0.2],[20.4735,0.45],[20.4742,0.35],[20.4750,0.6],[20.4758,0.3],[20.4765,0.45],[20.4772,0.2],[20.4780,0.4],[20.4788,0.35],[20.4795,0.1],[20.4802,0.45],[20.4810,0.3],[20.4818,0.4],[20.4825,0.25],[20.4832,0.4],[20.4840,0.15],[20.4848,0.35],[20.4855,0.45],[20.4862,0.2],[20.4870,0.3],[20.4878,0.4],[20.4885,0.1],[20.4892,0.35],[20.4900,0.25],[20.4908,0.4],[20.4915,0.9],[20.4922,0.3],[20.4930,0.55],[20.4938,0.1],[20.4945,0.95],[20.4952,0.6],[20.4960,0.2],[20.4968,0.0],[20.4975,0.15],[20.4982,0.05],[20.4990,0.15]];

// annotated SNPs
const snpUMOD1="rs34882080", snpUMOD2="rs13334589", snpPDILT="rs77924615", snpUromLead="rs34262842";
const snp1Pos=20.3623, snp2Pos=20.3669;

// ---------------- DRAWING ----------------
const svg=d3.select("body").append("svg").attr("width",800).attr("height",651);
const BLUE_AX="#4646ff";

function text(g,x,y,parts,o={}){
  const t=g.append("text").attr("x",x).attr("y",y).attr("font-size",o.size||10)
    .attr("fill",o.fill||"#111").attr("text-anchor",o.anchor||"start");
  if(o.rotate) t.attr("transform",`rotate(${o.rotate},${x},${y})`);
  if(o.weight) t.attr("font-weight",o.weight);
  if(typeof parts==="string") parts=[[parts]];
  let shift=0;
  parts.forEach(([s,st])=>{
    const ts=t.append("tspan").text(s);
    if(st&&st.includes("i")) ts.attr("font-style","italic");
    if(st&&st.includes("sub")){ts.attr("font-size",(o.size||10)*0.7).attr("dy",3);shift=3;}
    else if(shift){ts.attr("dy",-shift);shift=0;}
  });
  return t;
}

function pts(g,data,x,y,o){
  const sel=g.append("g").selectAll("path").data(data).join("path")
    .attr("transform",d=>`translate(${x(d[0])},${y(d[1])})`);
  if(o.shape==="x"){
    const s=o.s||2;
    sel.attr("d",`M${-s},${-s}L${s},${s}M${-s},${s}L${s},${-s}`).attr("fill","none").attr("stroke",o.fill).attr("stroke-width",0.8);
  } else {
    const sym={circle:d3.symbolCircle,tri:d3.symbolTriangle,diamond:d3.symbolDiamond}[o.shape];
    sel.attr("d",d3.symbol(sym,o.size)()).attr("fill",o.fill);
    if(o.op!=null) sel.attr("fill-opacity",o.op);
    if(o.stroke) sel.attr("stroke",o.stroke).attr("stroke-width",o.sw||0.7).attr("stroke-opacity",o.sop==null?1:o.sop);
  }
}

const C={red:"#e8141a",red2:"#e94848",red3:"#ef7b7c",pink:"#f4a6a6",pinkBg:"#f8cbcb",
  blue:"#5a8fc7",blue2:"#88b0d9",blue3:"#b4cfe8",blueBg:"#d2e2f0",lead:"#2470b8",grey:"#8a8a8a"};
const CIRC=19, TRI=15;

function locusPanel(o){
  const g=svg.append("g");
  const x=d3.scaleLinear().domain(xDomain).range(o.xr);
  const y=d3.scaleLinear().domain([0,o.yMax]).range(o.yr);
  const yr=d3.scaleLinear().domain([0,100]).range(o.rr);
  const x0=o.xr[0],x1=o.xr[1];
  text(g,o.letterX,10,o.letter,{size:9.5,weight:"bold"});
  text(g,(x0+x1)/2,11.5,o.title,{size:10,anchor:"middle"});
  const d=o.data;
  pts(g,d.blueBg,x,y,{shape:"tri",size:TRI,fill:C.blueBg});
  pts(g,d.pinkBg,x,y,{shape:"circle",size:CIRC,fill:C.pinkBg});
  if(d.grey) pts(g,d.grey,x,y,{shape:"x",fill:C.grey});
  g.append("path").datum(recPos.map((p,i)=>[p,recRate[i]]))
    .attr("d",d3.line().x(v=>x(v[0])).y(v=>yr(v[1])))
    .attr("fill","none").attr("stroke","#2e2eff").attr("stroke-width",1);
  pts(g,d.blue3,x,y,{shape:"tri",size:TRI,fill:C.blue3});
  pts(g,d.pink,x,y,{shape:"circle",size:CIRC,fill:C.pink});
  pts(g,d.blue2,x,y,{shape:"tri",size:TRI,fill:C.blue2});
  pts(g,d.red3,x,y,{shape:"circle",size:CIRC,fill:C.red3});
  pts(g,d.blue,x,y,{shape:"tri",size:TRI,fill:C.blue});
  pts(g,d.red2,x,y,{shape:"circle",size:CIRC,fill:C.red2});
  pts(g,d.red,x,y,{shape:"circle",size:CIRC,fill:C.red});
  pts(g,d.lead,x,y,{shape:"diamond",size:26,fill:C.lead});
  g.append("rect").attr("x",x0).attr("y",18.5).attr("width",x1-x0).attr("height",225-18.5)
    .attr("fill","none").attr("stroke","#8c8c8c").attr("stroke-width",1);
  o.yTicks.forEach(t=>{
    g.append("line").attr("x1",x0-7).attr("x2",x0-2).attr("y1",y(t)).attr("y2",y(t)).attr("stroke","#333").attr("stroke-width",0.8);
    text(g,x0-9,y(t)+3.5,String(t),{size:10,anchor:"end"});
  });
  g.append("line").attr("x1",x1+2).attr("x2",x1+2).attr("y1",yr(0)).attr("y2",yr(100)).attr("stroke",BLUE_AX).attr("stroke-width",0.6);
  recTicks.forEach(t=>{
    g.append("line").attr("x1",x1+2).attr("x2",x1+6).attr("y1",yr(t)).attr("y2",yr(t)).attr("stroke",BLUE_AX).attr("stroke-width",0.8);
    text(g,x1+8,yr(t)+3.5,String(t),{size:10,fill:BLUE_AX});
  });
  text(g,o.ylabX,127,[["\u2212log"],["10","sub"],[" ("],["P","i"],[" value)"]],{size:10,anchor:"middle",rotate:-90});
  text(g,o.rlabX,124,"Recombination rate (cM/Mb)",{size:10,anchor:"middle",rotate:90,fill:BLUE_AX});
  text(g,x(o.lab1[0]),y(o.lab1[1])-4,o.lab1[2],{size:7.2,anchor:"middle",fill:"#222"});
  text(g,x(o.lab2[0]),y(o.lab2[1])-4,o.lab2[2],{size:7.2,anchor:"middle",fill:"#222"});
  g.append("rect").attr("x",x0).attr("y",234).attr("width",x1-x0).attr("height",16)
    .attr("fill","none").attr("stroke","#8c8c8c").attr("stroke-width",1);
  geneNames.forEach((n,i)=>{
    const gy=243.5;
    g.append("line").attr("x1",x(geneStart[i])).attr("x2",x(geneEnd[i])).attr("y1",gy).attr("y2",gy).attr("stroke","#1c1c9a").attr("stroke-width",0.9);
    geneExons[i].forEach(e=>g.append("rect").attr("x",x(e)-0.8).attr("y",gy-1.8).attr("width",1.6).attr("height",3.6).attr("fill","#1c1c9a"));
    const lab=geneDir[i]<0?"\u2190"+n:n+"\u2192";
    text(g,x((geneStart[i]+geneEnd[i])/2)+(geneDir[i]<0?3:0),240,[[lab,"i"]],{size:6.5,anchor:"middle",fill:"#222"});
  });
  xTicksAB.forEach((t,i)=>{
    g.append("line").attr("x1",x(t)).attr("x2",x(t)).attr("y1",250).attr("y2",254).attr("stroke","#333").attr("stroke-width",0.8);
    text(g,x(t),264,xTickLabelsAB[i],{size:10,anchor:"middle"});
  });
  text(g,(x0+x1)/2,278,"Position on chr. 16 (Mb)",{size:10,anchor:"middle"});
}

locusPanel({letter:"a",letterX:2,title:"Association with eGFR",xr:[40,352],yr:[217.3,44.3],yMax:100,rr:[217.3,29],
  yTicks:yTicksA,ylabX:11,rlabX:385,
  lab1:[snp1Pos,91.8,snpUMOD1],lab2:[leadPos,99.2,snpPDILT],
  data:{red:egfrRed,red2:egfrRed2,red3:egfrRed3,pink:egfrPink,pinkBg:egfrPinkBg,blue:egfrBlue,blue2:egfrBlue2,blue3:egfrBlue3,blueBg:egfrBlueBg,grey:egfrGrey,lead:egfrLead}});
locusPanel({letter:"b",letterX:402,title:"Association with uromodulin",xr:[446,752],yr:[217.7,62.3],yMax:15,rr:[217.5,29],
  yTicks:yTicksB,ylabX:413,rlabX:792,
  lab1:[20.3566,16.6,snpUromLead],lab2:[leadPos,15.6,snpPDILT],
  data:{red:uromRed,red2:uromRed2,red3:uromRed3,pink:uromPink,pinkBg:uromPinkBg.concat(uromPinkBg2),blue:uromBlue,blue2:uromBlue2,blue3:uromBlue3,blueBg:uromBlueBg.concat(uromBlueBg2),grey:uromGrey,lead:uromLead}});

function regionPanel(o){
  const g=svg.append("g");
  const x=d3.scaleLinear().domain(xDomain).range(o.xr);
  const yt=d3.scaleLinear().domain([0,30]).range(o.ytr);
  const yb=d3.scaleLinear().domain([0,6]).range(o.ybr);
  text(g,o.letterX,306.5,o.letter,{size:9.5,weight:"bold"});
  text(g,o.titleX,310.5,[[o.titleA],[o.titleB,"i"]],{size:10,anchor:"middle"});
  [[yt,yTicksTop],[yb,yTicksBot]].forEach(([s,ticks])=>{
    g.append("line").attr("x1",o.ax).attr("x2",o.ax).attr("y1",s(ticks[0])).attr("y2",s(ticks[ticks.length-1])).attr("stroke","#333").attr("stroke-width",0.8);
    ticks.forEach(t=>{
      g.append("line").attr("x1",o.ax-4).attr("x2",o.ax).attr("y1",s(t)).attr("y2",s(t)).attr("stroke","#333").attr("stroke-width",0.8);
      text(g,o.ax-6.5,s(t)+3.5,String(t),{size:10,anchor:"end"});
    });
  });
  text(g,o.ylabX,462,[["Conditional \u2212log"],["10","sub"],[" ("],["P","i"],[" value)"]],{size:10,anchor:"middle",rotate:-90});
  g.append("line").attr("x1",x(xTicksAB[0])).attr("x2",x(xTicksAB[4])).attr("y1",o.xay).attr("y2",o.xay).attr("stroke","#333").attr("stroke-width",0.8);
  xTicksAB.forEach((t,i)=>{
    g.append("line").attr("x1",x(t)).attr("x2",x(t)).attr("y1",o.xay).attr("y2",o.xay+4).attr("stroke","#333").attr("stroke-width",0.8);
    text(g,x(t),o.xay+13.5,xTickLabelsCD[i],{size:10,anchor:"middle"});
  });
  text(g,(o.xr[0]+o.xr[1])/2,o.xay+28.5,"Position on chr. 16 (Mb)",{size:10,anchor:"middle"});
  pts(g,o.egfr,x,yt,{shape:"circle",size:18,fill:"#107a10",op:0.45,stroke:"#107a10",sop:0.45,sw:0.7});
  pts(g,o.urom,x,yb,{shape:"circle",size:18,fill:"#0000f0",op:0.42,stroke:"#0000f0",sop:0.42,sw:0.7});
  const L=o.leg;
  g.append("rect").attr("x",L[0]).attr("y",L[1]).attr("width",L[2]).attr("height",22.5).attr("fill","#fff").attr("stroke","#555").attr("stroke-width",0.8);
  [["eGFR","#0b5e0b"],["Uromodulin","#0a0ad0"]].forEach(([n,c],i)=>{
    g.append("rect").attr("x",L[0]+3).attr("y",L[1]+4.2+i*9.5).attr("width",5).attr("height",5).attr("fill",c).attr("stroke","#111").attr("stroke-width",0.5);
    text(g,L[0]+10,L[1]+9.3+i*9.5,n,{size:7.6});
  });
  const hb=o.hbox;
  g.append("rect").attr("x",hb[0]).attr("y",464).attr("width",hb[1]).attr("height",13).attr("fill","#fff").attr("stroke","#333").attr("stroke-width",0.8);
  text(g,hb[0]+hb[1]/2,474,[["H","i"],["4","sub"],[" PP = "+o.pp]],{size:9.5,anchor:"middle"});
  o.annot(g,x,yt,yb);
}

function annotLine(g,x1,y1,x2,y2,c){g.append("line").attr("x1",x1).attr("y1",y1).attr("x2",x2).attr("y2",y2).attr("stroke",c).attr("stroke-width",0.8);}

regionPanel({letter:"c",letterX:3,titleA:"Region 1: ",titleB:"UMOD",titleX:178,xr:[51.7,340.5],ytr:[455.3,323.3],ybr:[611,479],
  ax:40.5,xay:619.3,ylabX:11,egfr:r1Egfr,urom:r1Urom,leg:[296.7,318,52.3],hbox:[165.7,60],pp:"0.97",
  annot:(g,x,yt,yb)=>{
    const a=[x(snp1Pos),yt(23.8)], b=[x(snp2Pos),yt(23.3)];
    annotLine(g,a[0]+1.5,a[1]-1.5,a[0]+15,a[1]-11.5,"#222");
    text(g,a[0]+17,a[1]-10,snpUMOD1,{size:7.2,fill:"#222"});
    annotLine(g,b[0]+4,b[1]-1,b[0]+9,b[1]-2.2,"#bbb");
    text(g,b[0]+10.5,b[1]+0.5,snpUMOD2,{size:7.2,fill:"#b0b0b0"});
    const c=[x(snp2Pos),yb(5.42)], d=[x(snp1Pos),yb(5.0)];
    annotLine(g,c[0]+2,c[1]-0.5,c[0]+16,c[1]-5,"#222");
    text(g,c[0]+17.5,c[1]-2.5,snpUMOD2,{size:7.2,fill:"#222"});
    annotLine(g,d[0]+1.5,d[1]+1.5,d[0]+15,d[1]+9,"#bbb");
    text(g,d[0]+16.5,d[1]+12.5,snpUMOD1,{size:7.2,fill:"#b0b0b0"});
  }});
regionPanel({letter:"d",letterX:406,titleA:"Region 2: ",titleB:"PDILT",titleX:583,xr:[458.3,745.5],ytr:[456.7,325],ybr:[612.7,480],
  ax:446.7,xay:620,ylabX:413,egfr:r2Egfr,urom:r2Urom,leg:[701.7,320,55.6],hbox:[571.7,59],pp:"0.96",
  annot:(g,x,yt,yb)=>{
    text(g,x(20.3924)+4,yt(30.5)+7,snpPDILT,{size:7.2,fill:"#222"});
    text(g,x(20.3922)+4,yb(4.07)+2.8,snpPDILT,{size:7.2,fill:"#222"});
  }});
</script></body></html>
